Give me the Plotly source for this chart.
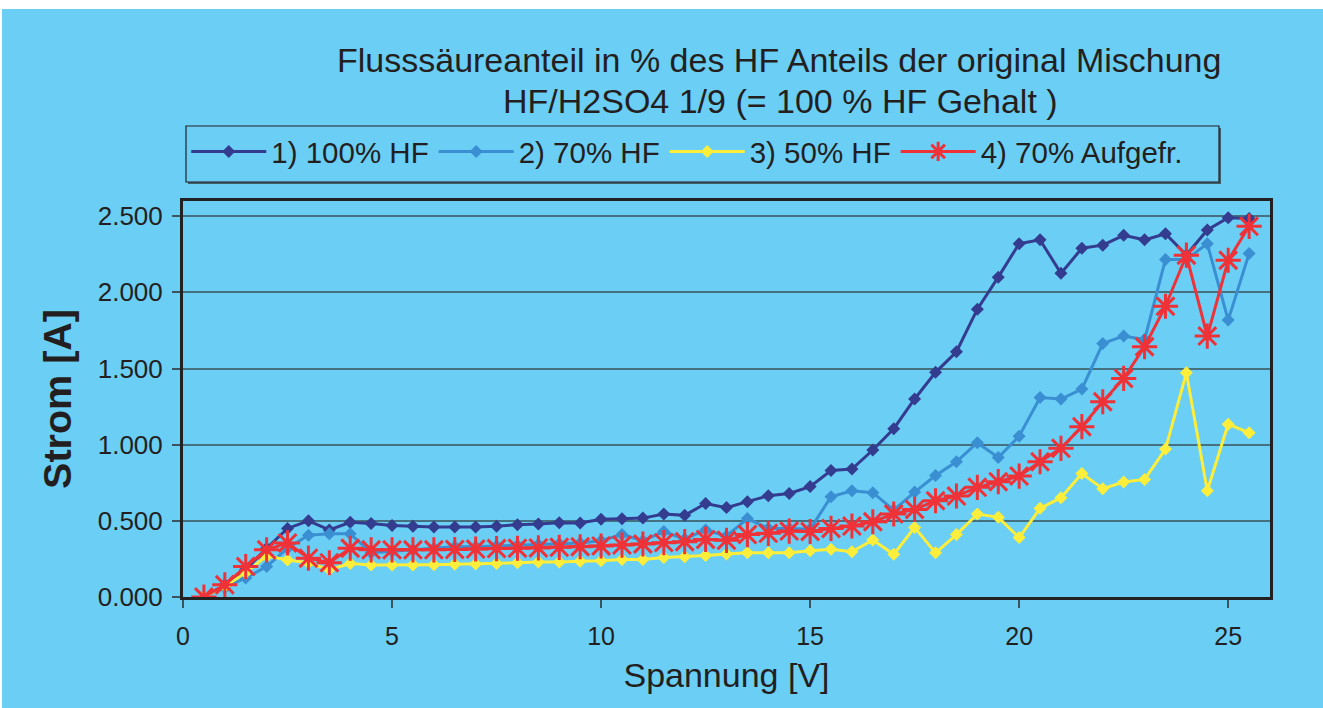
import plotly.graph_objects as go

spannung = [0.5, 1.0, 1.5, 2.0, 2.5, 3.0, 3.5, 4.0, 4.5, 5.0,
            5.5, 6.0, 6.5, 7.0, 7.5, 8.0, 8.5, 9.0, 9.5, 10.0,
            10.5, 11.0, 11.5, 12.0, 12.5, 13.0, 13.5, 14.0, 14.5, 15.0,
            15.5, 16.0, 16.5, 17.0, 17.5, 18.0, 18.5, 19.0, 19.5, 20.0,
            20.5, 21.0, 21.5, 22.0, 22.5, 23.0, 23.5, 24.0, 24.5, 25.0, 25.5]

hf100 = [0.00, 0.08, 0.18, 0.32, 0.45, 0.50, 0.44, 0.49, 0.482, 0.47,
         0.465, 0.46, 0.46, 0.46, 0.465, 0.475, 0.48, 0.488, 0.486, 0.51,
         0.513, 0.518, 0.545, 0.536, 0.614, 0.587, 0.626, 0.665, 0.68, 0.725,
         0.83, 0.84, 0.965, 1.105, 1.30, 1.475, 1.61, 1.89, 2.10, 2.32,
         2.345, 2.125, 2.29, 2.31, 2.375, 2.345, 2.385, 2.245, 2.41, 2.49, 2.485]

hf70 = [0.00, 0.06, 0.125, 0.20, 0.32, 0.405, 0.415, 0.415, 0.29, 0.30,
        0.31, 0.32, 0.33, 0.33, 0.335, 0.34, 0.345, 0.35, 0.355, 0.37,
        0.41, 0.37, 0.43, 0.38, 0.44, 0.40, 0.515, 0.45, 0.45, 0.445,
        0.658, 0.697, 0.685, 0.571, 0.689, 0.798, 0.888, 1.013, 0.916, 1.056,
        1.31, 1.30, 1.365, 1.665, 1.713, 1.69, 2.216, 2.216, 2.32, 1.818, 2.255]

hf50 = [0.00, 0.07, 0.16, 0.27, 0.243, 0.225, 0.18, 0.22, 0.21, 0.21,
        0.21, 0.212, 0.215, 0.217, 0.22, 0.225, 0.23, 0.23, 0.235, 0.238,
        0.247, 0.247, 0.26, 0.265, 0.273, 0.282, 0.29, 0.29, 0.29, 0.304,
        0.313, 0.297, 0.374, 0.28, 0.457, 0.29, 0.41, 0.545, 0.523, 0.39,
        0.582, 0.652, 0.811, 0.711, 0.755, 0.772, 0.971, 1.472, 0.698, 1.135, 1.078]

hf70_aufgefr = [0.00, 0.08, 0.20, 0.31, 0.355, 0.255, 0.225, 0.32, 0.31, 0.31,
                0.31, 0.31, 0.312, 0.315, 0.318, 0.32, 0.322, 0.326, 0.33, 0.335,
                0.341, 0.348, 0.357, 0.363, 0.378, 0.372, 0.41, 0.418, 0.433, 0.43,
                0.45, 0.466, 0.494, 0.545, 0.575, 0.632, 0.663, 0.72, 0.757, 0.794,
                0.888, 0.976, 1.118, 1.282, 1.435, 1.643, 1.909, 2.244, 1.713, 2.211, 2.434]

names = ["1) 100% HF", "2) 70% HF", "3) 50% HF", "4) 70% Aufgefr."]
colors = ["#333c8f", "#3a8fd2", "#fcee3a", "#ee3238"]

x_ticks = [0, 5, 10, 15, 20, 25]
y_ticks = [0.0, 0.5, 1.0, 1.5, 2.0, 2.5]

FONT = "Liberation Sans, Arial, sans-serif"
TXT = "#231f20"
BG = "#6bcef5"

# plot area geometry in pixels (for placing paper-referenced decorations)
L, R, T, B, W, H = 183, 53, 201, 111, 1323, 708
PW, PH = W - L - R, H - T - B


def px_x(p):
    return (p - L) / PW


def px_y(p):
    return (H - B - p) / PH


fig = go.Figure()
series = [hf100, hf70, hf50, hf70_aufgefr]
for i, ys in enumerate(series):
    if i < 3:
        marker = dict(symbol="diamond", size=10, color=colors[i])
    else:
        marker = dict(symbol="asterisk-open", size=21, color=colors[i],
                      line=dict(color=colors[i], width=3))
    fig.add_trace(go.Scatter(
        x=spannung, y=ys, name=names[i], mode="lines+markers",
        line=dict(color=colors[i], width=3), marker=marker))

fig.update_layout(
    width=W, height=H,
    margin=dict(l=L, r=R, t=T, b=B),
    paper_bgcolor=BG, plot_bgcolor=BG,
    font=dict(family=FONT, color=TXT),
    showlegend=True,
    legend=dict(orientation="h", x=0.003, y=1.19, xanchor="left", yanchor="top",
                bgcolor="rgba(0,0,0,0)", borderwidth=0,
                font=dict(size=29.5, family=FONT, color=TXT), itemwidth=75,
                traceorder="normal"),
    annotations=[
        dict(text="Flusssäureanteil in % des HF Anteils der original Mischung",
             xref="paper", yref="paper", x=0.548, y=1.356, xanchor="center", yanchor="middle",
             showarrow=False, font=dict(size=34, family=FONT, color=TXT)),
        dict(text="HF/H2SO4 1/9 (= 100 % HF Gehalt )",
             xref="paper", yref="paper", x=0.550, y=1.252, xanchor="center", yanchor="middle",
             showarrow=False, font=dict(size=34, family=FONT, color=TXT)),
    ],
    shapes=[
        # legend frame shadow and frame
        dict(type="rect", xref="paper", yref="paper",
             x0=px_x(188), x1=px_x(1221), y0=px_y(184), y1=px_y(128),
             fillcolor="#3f5f6d", line=dict(width=0), layer="below"),
        dict(type="rect", xref="paper", yref="paper",
             x0=px_x(186), x1=px_x(1219), y0=px_y(182), y1=px_y(126),
             fillcolor=BG, line=dict(color="#222222", width=1.2), layer="below"),
        # white page strips
        dict(type="rect", xref="paper", yref="paper", x0=-0.2, x1=1.1,
             y0=px_y(9), y1=1.6, fillcolor="white",
             line=dict(width=0), layer="above"),
        dict(type="rect", xref="paper", yref="paper", x0=-0.2, x1=px_x(2),
             y0=-0.4, y1=1.6, fillcolor="white",
             line=dict(width=0), layer="above"),
    ],
)

fig.update_xaxes(
    range=[0, 26], tickvals=x_ticks, ticktext=[str(v) for v in x_ticks],
    showgrid=False, zeroline=False,
    showline=True, linecolor="#222222", linewidth=3, mirror=True,
    ticks="outside", ticklen=8, tickcolor="#3b5560", tickwidth=1.5,
    tickfont=dict(size=25, family=FONT, color=TXT), ticklabelstandoff=7,
    title=dict(text="Spannung [V]", font=dict(size=34, family=FONT, color=TXT), standoff=15),
    automargin=False,
)
fig.update_yaxes(
    range=[0, 2.6], tickvals=y_ticks, ticktext=["%.3f" % v for v in y_ticks],
    showgrid=True, gridcolor="#45707f", gridwidth=2, zeroline=False,
    showline=True, linecolor="#222222", linewidth=3, mirror=True,
    ticks="outside", ticklen=8, tickcolor="#3b5560", tickwidth=1.5,
    tickfont=dict(size=26, family=FONT, color=TXT), ticklabelstandoff=4,
    title=dict(text="<b>Strom [A]</b>", font=dict(size=39.5, family=FONT, color=TXT), standoff=14),
    automargin=False,
)

fig.write_html(
    "out.html", config={"displayModeBar": False},
    post_script=("document.body.style.margin='0px';"
                 "document.body.style.overflow='hidden';"
                 "document.body.style.background='" + BG + "';"
                 "document.documentElement.style.background='" + BG + "';"))
